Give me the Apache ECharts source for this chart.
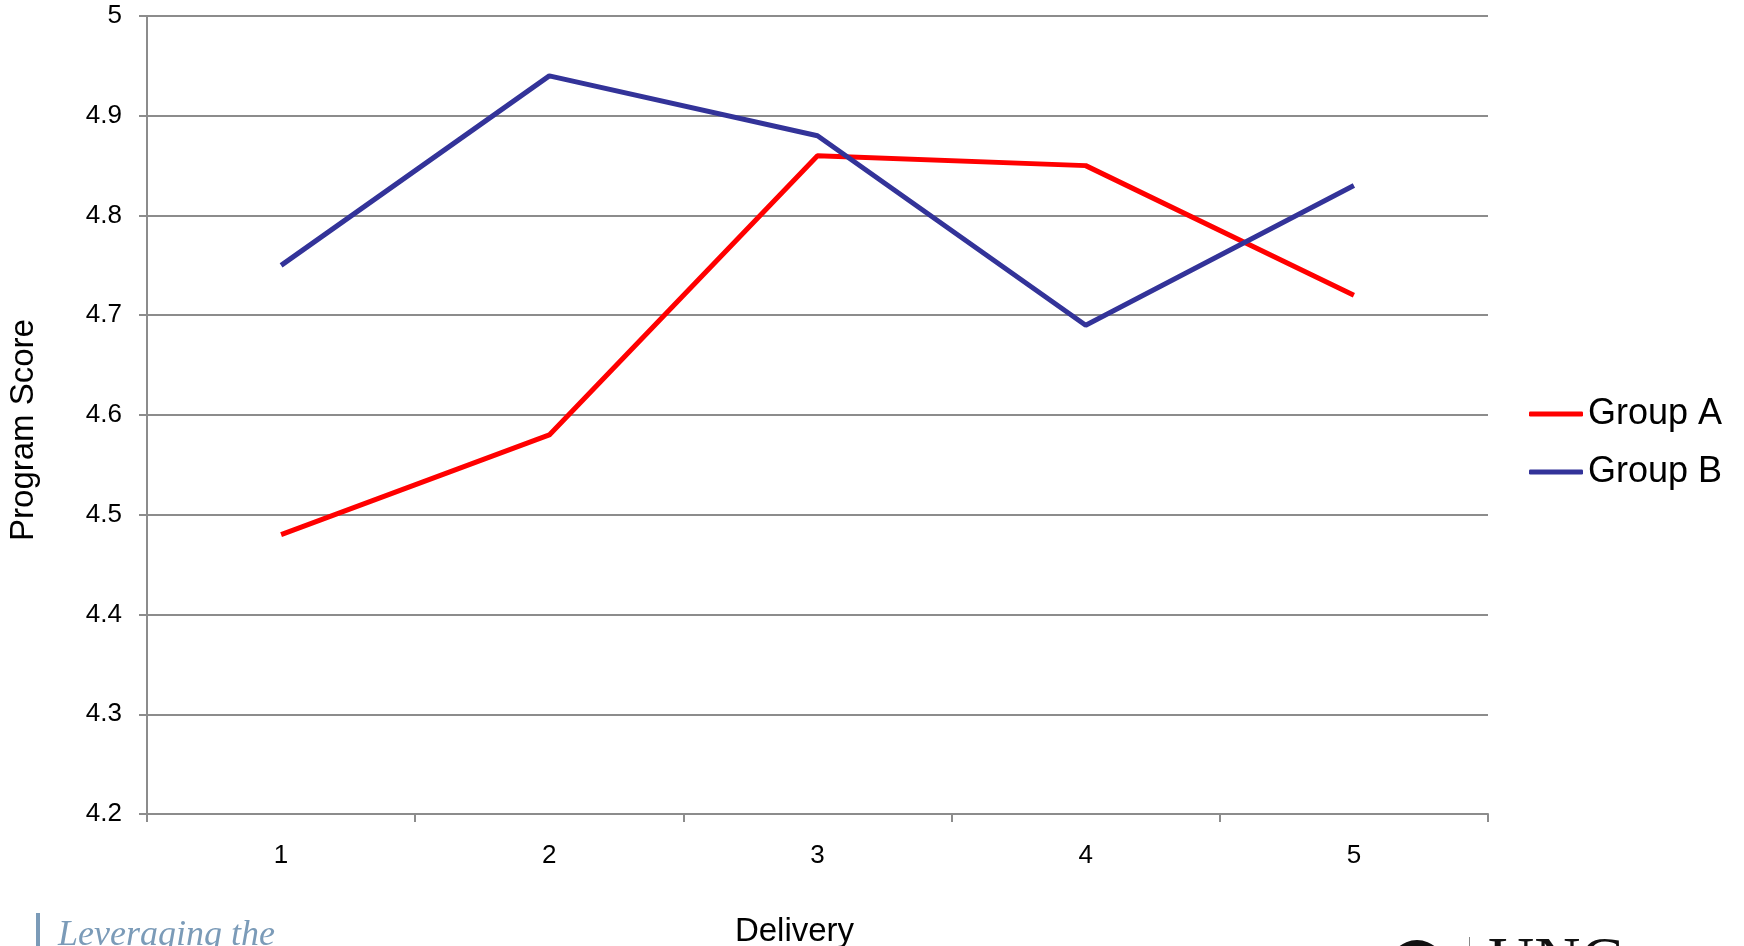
<!DOCTYPE html>
<html>
<head>
<meta charset="utf-8">
<script src="https://cdn.jsdelivr.net/npm/echarts@6/dist/echarts.min.js"></script>
<style>
  html, body { margin: 0; padding: 0; background: #fff; }
  #chart { width: 1744px; height: 946px; }
</style>
</head>
<body>
<div id="chart"></div>
<script>
// values
var deliveries = ['1', '2', '3', '4', '5'];
var groupA = [4.48, 4.58, 4.86, 4.85, 4.72];
var groupB = [4.75, 4.94, 4.88, 4.69, 4.83];

var chartDom = document.getElementById('chart');
var myChart = echarts.init(chartDom);
var font = 'Liberation Sans';
var gray = '#8c8c8c';

var option = {
    animation: false,
    grid: { left: 147, right: 256, top: 16, bottom: 132, outerBoundsMode: 'none', containLabel: false },
    legend: {
        orient: 'vertical',
        left: 1524,
        top: 391,
        icon: 'roundRect',
        itemWidth: 54,
        itemHeight: 5,
        itemGap: 22,
        textStyle: { fontSize: 36, color: '#000', fontFamily: font },
        data: ['Group A', 'Group B']
    },
    xAxis: {
        type: 'category',
        data: deliveries,
        boundaryGap: true,
        name: 'Delivery',
        nameLocation: 'middle',
        nameGap: 101,
        nameTextStyle: { fontSize: 33, color: '#000', fontFamily: font, padding: [0, 46, 0, 0] },
        axisLine: { lineStyle: { color: gray, width: 2 } },
        axisTick: { show: true, length: 8, lineStyle: { color: gray, width: 2 } },
        axisLabel: { fontSize: 26, color: '#000', fontFamily: font, margin: 29 }
    },
    yAxis: {
        type: 'value',
        min: 4.2,
        max: 5,
        interval: 0.1,
        name: 'Program Score',
        nameLocation: 'middle',
        nameGap: 107,
        nameTextStyle: { fontSize: 33, color: '#000', fontFamily: font, padding: [0, 30, 0, 0] },
        axisLine: { show: true, lineStyle: { color: gray, width: 2 } },
        axisTick: { show: true, length: 8, lineStyle: { color: gray, width: 2 } },
        axisLabel: { fontSize: 26, color: '#000', fontFamily: font, margin: 25 },
        splitLine: { lineStyle: { color: gray, width: 2 } }
    },
    series: [
        {
            name: 'Group A',
            type: 'line',
            symbol: 'none',
            data: groupA,
            lineStyle: { color: '#ff0000', width: 5 },
            itemStyle: { color: '#ff0000' }
        },
        {
            name: 'Group B',
            type: 'line',
            symbol: 'none',
            data: groupB,
            lineStyle: { color: '#333399', width: 5 },
            itemStyle: { color: '#333399' }
        }
    ],
    // logos cut off at the bottom of the slide
    graphic: [
        { type: 'rect', shape: { x: 36, y: 913, width: 4, height: 40 }, style: { fill: '#7b9bb8' } },
        { type: 'text', left: 58, top: 918, style: { text: 'Leveraging the', fill: '#7b9bb8', font: 'italic 36px "Liberation Serif", serif' } },
        { type: 'circle', shape: { cx: 1417, cy: 968, r: 28 }, style: { fill: '#111' } },
        { type: 'rect', shape: { x: 1469, y: 937, width: 1, height: 20 }, style: { fill: '#888' } },
        { type: 'text', left: 1488, top: 932, style: { text: 'UNC', fill: '#111', font: '64px "Liberation Serif", serif' } }
    ]
};

option && myChart.setOption(option);
</script>
</body>
</html>
